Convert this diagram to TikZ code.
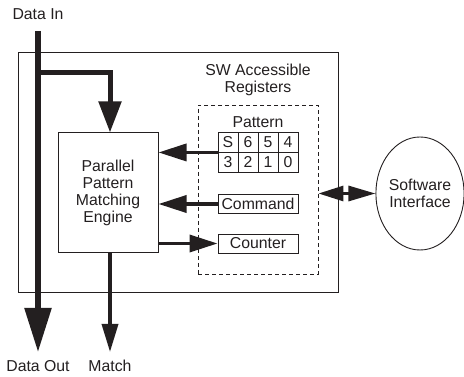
\documentclass[tikz,border=0pt]{standalone}
\usepackage{fontspec}
\setmainfont{Liberation Sans}
\usetikzlibrary{arrows.meta,shapes.geometric,calc}
\definecolor{ink}{HTML}{231F20}
\begin{document}
\begin{tikzpicture}[x=1pt,y=-1pt,
  every node/.style={font=\fontsize{15.8}{17}\selectfont, text=ink},
  lbl/.style={inner sep=0pt, align=center},
  box/.style={draw=ink, line width=1pt, inner sep=0pt, align=center},
  cell/.style={draw=ink, line width=0.9pt, minimum width=20pt, minimum height=20pt, inner sep=0pt},
  reg/.style={draw=ink, line width=0.9pt, minimum width=80pt, minimum height=19pt, inner sep=0pt},
  bus/.style={draw=ink, line width=3.5pt},
  smallhead/.style={-{Triangle[length=28pt,width=17pt]}}
]
\useasboundingbox (0,0) rectangle (464,377);

% outer chip box
\node[box, minimum width=320pt, minimum height=240pt] (chip) at (178,173) {};
% dashed register area
\node[box, dash pattern=on 4pt off 3pt, line width=0.9pt, minimum width=120pt, minimum height=169pt] (regs) at (258,189.5) {};

\node[lbl] (swacc) at (258,80) {SW Accessible\\Registers};
\node[lbl] (patlbl) at (258,122) {Pattern};

% pattern cells
\node[cell] (cS) at (228,142) {S};
\node[cell] (c6) at (248,142) {6};
\node[cell] (c5) at (268,142) {5};
\node[cell] (c4) at (288,142) {4};
\node[cell] (c3) at (228,162) {3};
\node[cell] (c2) at (248,162) {2};
\node[cell] (c1) at (268,162) {1};
\node[cell] (c0) at (288,162) {0};

\node[reg] (cmd) at (258,204) {Command};
\node[reg] (cnt) at (258,243.5) {Counter};

% engine
\node[box, minimum width=100pt, minimum height=120pt] (ppme) at (108,193) {Parallel\\Pattern\\Matching\\Engine};

% software interface
\node[draw=ink, line width=0.9pt, ellipse, minimum width=87pt, minimum height=113pt, inner sep=0pt, align=center] (sw) at (420,193.5) {Software\\Interface};

% labels
\node[lbl] (din) at (38,14) {Data In};
\node[lbl] (dout) at (38,366) {Data Out};
\node[lbl] (match) at (110,366) {Match};

\coordinate (inTop) at (38,31);
\coordinate (br) at (38,73);
\coordinate (outTip) at (38,352);
\coordinate (matchTip) at (110,352);

% data path
\draw[draw=ink, line width=5.5pt, -{Triangle[length=44pt,width=26pt]}] (inTop) -- (outTip);
\draw[draw=ink, line width=5pt, line join=miter, -{Triangle[length=31pt,width=22pt]}] (br) -| ([xshift=2pt]ppme.north);
\draw[draw=ink, line width=3.5pt, -{Triangle[length=28pt,width=16pt]}] ([xshift=2pt]ppme.south) -- (matchTip);

% register connections
\draw[bus, smallhead] (cS.south west) -- (cS.south west -| ppme.east);
\draw[bus, smallhead] (cmd.west) -- (cmd.west -| ppme.east);
\draw[bus, smallhead] (ppme.east |- cnt.west) -- (cnt.west);

% software interface double arrow
\draw[draw=ink, line width=3pt, {Triangle[length=25pt,width=15pt]}-{Triangle[length=27pt,width=15pt]}] (regs.east |- sw.west) -- (sw.west);
\end{tikzpicture}
\end{document}
